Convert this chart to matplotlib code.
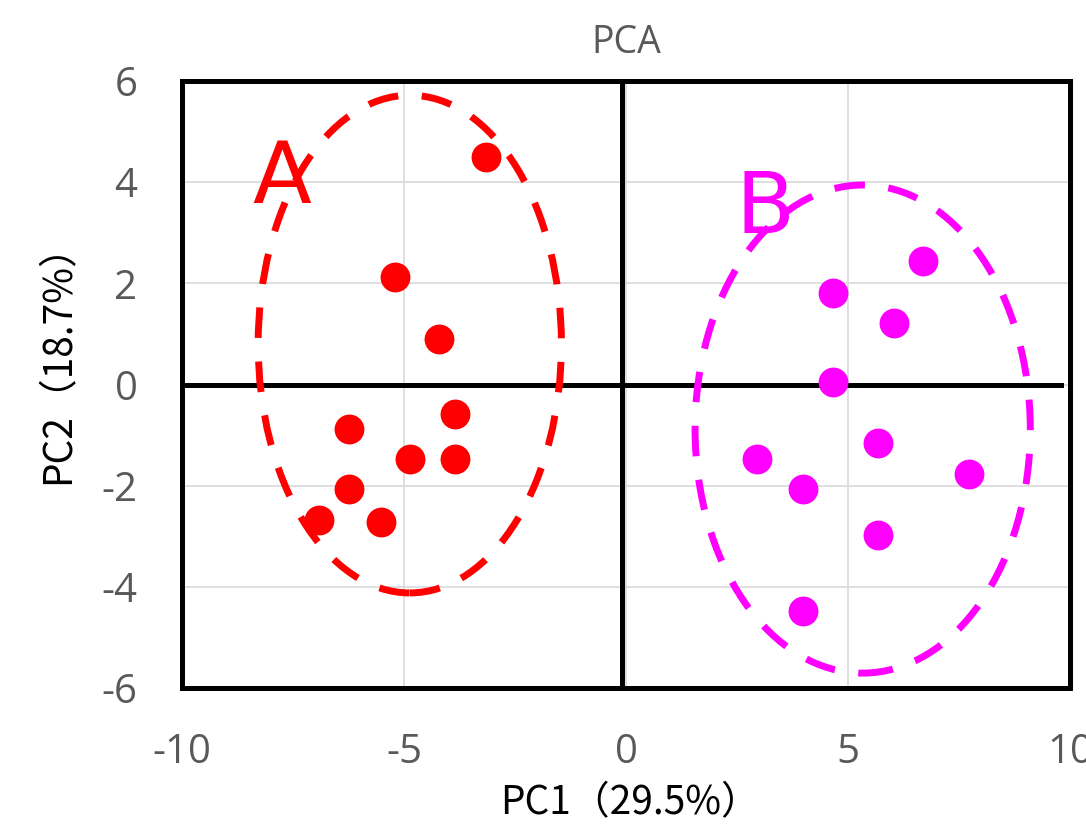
import numpy as np
import matplotlib
matplotlib.use("Agg")
import matplotlib.pyplot as plt
from matplotlib.patches import Ellipse

plt.rcParams['axes.unicode_minus'] = False

# grupo A (rojo)
a_pc1 = [-3.15, -5.2, -4.21, -3.85, -6.24, -4.86, -3.85, -6.24, -6.91, -5.52]
a_pc2 = [4.50, 2.12, 0.91, -0.58, -0.88, -1.47, -1.47, -2.07, -2.68, -2.72]

# grupo B (magenta)
b_pc1 = [6.69, 4.66, 6.04, 4.66, 5.68, 2.95, 3.99, 7.73, 5.68, 3.99]
b_pc2 = [2.44, 1.81, 1.22, 0.05, -1.16, -1.47, -2.07, -1.77, -2.98, -4.48]

# elipses: centro x, centro y, ancho, alto
ell_a = [-4.87, 0.80, 6.83, 9.84]
ell_b = [5.33, -0.88, 7.55, 9.65]

x_ticks = [-10, -5, 0, 5, 10]
y_ticks = [-6, -4, -2, 0, 2, 4, 6]

fig = plt.figure(figsize=(10.86, 8.36), dpi=100)
ax = fig.add_axes([0.1676, 0.177, 0.8177, 0.726])

ax.set_xlim(-10, 10)
ax.set_ylim(-6, 6)
ax.set_xticks(x_ticks)
ax.set_yticks(y_ticks)
ax.grid(True, color="#d9d9d9", linewidth=1.2, zorder=0)
ax.set_axisbelow(True)

for s in ax.spines.values():
    s.set_linewidth(3.6)
    s.set_color("black")
ax.tick_params(length=0, pad=32, labelsize=29, labelcolor="#595959")
for lab in ax.get_xticklabels() + ax.get_yticklabels():
    lab.set_fontfamily("Open Sans")

# ejes que cruzan en el centro
ax.axhline(0, xmin=0, xmax=0.99, color="black", linewidth=3.6, zorder=1)
ax.axvline(-0.1, color="black", linewidth=3.6, zorder=1)

ax.plot(a_pc1, a_pc2, 'o', color="#ff0000", markersize=21.5, markeredgewidth=0, zorder=3)
ax.plot(b_pc1, b_pc2, 'o', color="#ff00ff", markersize=21.5, markeredgewidth=0, zorder=3)

for e, c in [(ell_a, "#ff0000"), (ell_b, "#ff00ff")]:
    el = Ellipse((e[0], e[1]), e[2], e[3], fill=False, edgecolor=c,
                 linewidth=5, linestyle=(0, (4.4, 3.4)), zorder=2)
    ax.add_patch(el)

ax.text(-7.75, 3.59, "A", color="#ff0000", fontsize=62, ha="center", va="baseline", zorder=4)
ax.text(3.13, 3.0, "B", color="#ff00ff", fontsize=62, ha="center", va="baseline", zorder=4)

ax.set_title("PCA", fontsize=27, color="#595959", fontfamily="Open Sans", pad=20)
ax.set_xlabel("PC1（29.5%）", fontsize=28, fontfamily=["Noto Sans CJK JP", "DejaVu Sans"])
ax.set_ylabel("PC2（18.7%）", fontsize=28, fontfamily=["Noto Sans CJK JP", "DejaVu Sans"])
ax.xaxis.set_label_coords(0.505, -0.157)
ax.yaxis.set_label_coords(-0.117, 0.55)

plt.savefig("out.png", dpi=100)
